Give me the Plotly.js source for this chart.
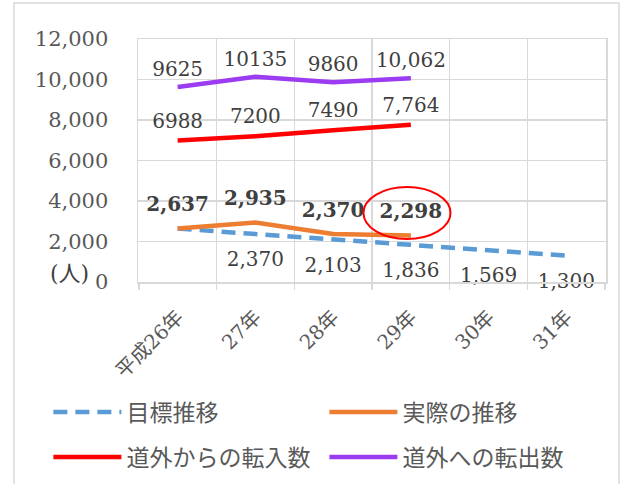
<!DOCTYPE html>
<html>
<head>
<meta charset="utf-8">
<script src="https://cdn.plot.ly/plotly-3.0.1.min.js"></script>
<style>html,body{margin:0;padding:0;background:#fff;}#chart{width:634px;height:484px;}</style>
</head>
<body>
<div id="chart"></div>
<script>
// ---- data ----
var categories = ['平成26年', '27年', '28年', '29年', '30年', '31年'];
var targetValues = [2637, 2370, 2103, 1836, 1569, 1300];
var targetLabels = ['', '2,370', '2,103', '1,836', '1,569', '1,300'];
var actualValues = [2637, 2935, 2370, 2298];
var actualLabels = ['2,637', '2,935', '2,370', '2,298'];
var inflowValues = [6988, 7200, 7490, 7764];
var inflowLabels = ['6988', '7200', '7490', '7,764'];
var outflowValues = [9625, 10135, 9860, 10062];
var outflowLabels = ['9625', '10135', '9860', '10,062'];
var seriesNames = ['目標推移', '実際の推移', '道外からの転入数', '道外への転出数'];
var yTicks = [0, 2000, 4000, 6000, 8000, 10000, 12000];

var serif = 'DejaVu Serif, Noto Sans CJK JP, serif';
var cjk = 'Noto Sans CJK JP, sans-serif';
var labelFont = {family: serif, size: 20, color: '#404040'};
var hiddenMarker = function (size) {
  return {size: size, color: 'rgba(0,0,0,0)', line: {width: 0, color: 'rgba(0,0,0,0)'}};
};

var traces = [
  {
    x: categories, y: targetValues, text: targetLabels, name: seriesNames[0],
    mode: 'lines+markers+text', textposition: 'bottom center', cliponaxis: false,
    line: {color: '#5B9BD5', width: 4.5, dash: '14px,8px'},
    marker: hiddenMarker(26),
    textfont: labelFont, legend: 'legend', hoverinfo: 'skip'
  },
  {
    x: categories.slice(0, 4), y: actualValues, text: actualLabels, name: seriesNames[1],
    mode: 'lines+markers+text', textposition: 'top center', cliponaxis: false,
    line: {color: '#ED7D31', width: 4.5},
    marker: hiddenMarker(18),
    textfont: {family: serif, size: 20, color: '#404040', weight: 'bold'}, legend: 'legend2', hoverinfo: 'skip'
  },
  {
    x: categories.slice(0, 4), y: inflowValues, text: inflowLabels, name: seriesNames[2],
    mode: 'lines+markers+text', textposition: 'top center', cliponaxis: false,
    line: {color: '#FF0000', width: 4.5},
    marker: hiddenMarker(11),
    textfont: labelFont, legend: 'legend3', hoverinfo: 'skip'
  },
  {
    x: categories.slice(0, 4), y: outflowValues, text: outflowLabels, name: seriesNames[3],
    mode: 'lines+markers+text', textposition: 'top center', cliponaxis: false,
    line: {color: '#9B3BF2', width: 4.5},
    marker: hiddenMarker(8),
    textfont: labelFont, legend: 'legend4', hoverinfo: 'skip'
  }
];

var legendFont = {family: cjk, size: 23, color: '#595959'};
function legendAt(x, y) {
  return {
    orientation: 'h', xref: 'paper', x: x, xanchor: 'left',
    yref: 'container', y: y, yanchor: 'middle',
    font: legendFont, itemwidth: 68, bgcolor: 'rgba(0,0,0,0)'
  };
}

var layout = {
  width: 634, height: 484,
  margin: {l: 138, r: 28, t: 39, b: 202, pad: 0},
  paper_bgcolor: '#ffffff', plot_bgcolor: '#ffffff',
  showlegend: true,
  xaxis: {
    type: 'category', tickson: 'boundaries',
    showgrid: true, gridcolor: '#d9d9d9', gridwidth: 1.5,
    showline: true, mirror: true, linecolor: '#d9d9d9', linewidth: 1.5,
    ticks: 'outside', ticklen: 6, tickcolor: '#d9d9d9', tickwidth: 1.5,
    tickangle: -45, tickfont: {family: serif, size: 20, color: '#595959'},
    ticklabelstandoff: 14,
    zeroline: false, fixedrange: true
  },
  yaxis: {
    range: [0, 12000], tickvals: yTicks, tickformat: ',d',
    showgrid: true, gridcolor: '#d9d9d9', gridwidth: 1.5,
    showline: true, mirror: true, linecolor: '#d9d9d9', linewidth: 1.5,
    zeroline: false, ticks: '',
    ticklabelstandoff: 24,
    tickfont: {family: serif, size: 21, color: '#595959'}, fixedrange: true
  },
  legend: legendAt(-0.1915, 0.1488),
  legend2: legendAt(0.3983, 0.1488),
  legend3: legendAt(-0.1915, 0.0558),
  legend4: legendAt(0.3983, 0.0558),
  shapes: [
    {type: 'rect', xref: 'paper', yref: 'paper', x0: -0.2650, x1: 1.0278, y0: 1.1481, y1: -0.90,
     line: {color: '#d9d9d9', width: 1.5}, fillcolor: 'rgba(0,0,0,0)', layer: 'below'},
    {type: 'circle', xref: 'x', yref: 'y', x0: 2.39, x1: 3.51, y0: 2123, y1: 4691,
     line: {color: '#FF0000', width: 2}}
  ],
  annotations: [
    {text: '(人)', xref: 'paper', yref: 'paper', x: -0.147, y: 0.037, xanchor: 'center', yanchor: 'middle',
     showarrow: false, font: {family: serif, size: 22, color: '#404040'}}
  ]
};

Plotly.newPlot('chart', traces, layout, {displayModeBar: false, staticPlot: true});
</script>
</body>
</html>
